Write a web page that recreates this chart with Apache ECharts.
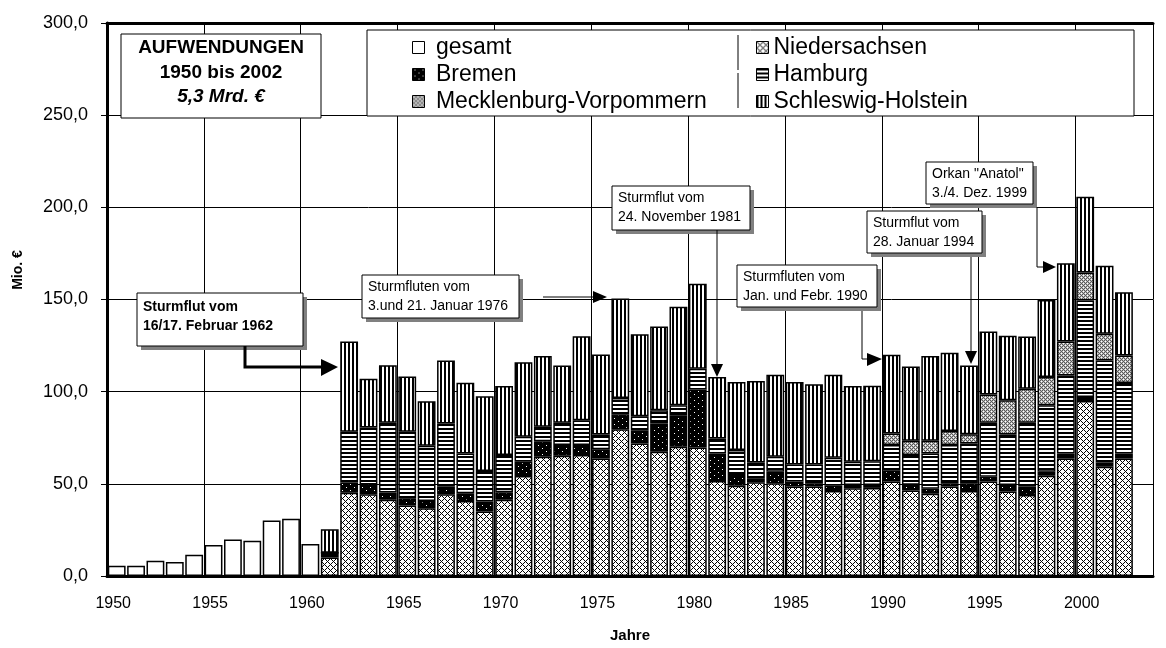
<!DOCTYPE html>
<html>
<head>
<meta charset="utf-8">
<title>Aufwendungen Küstenschutz 1950 bis 2002</title>
<script src="https://cdn.jsdelivr.net/npm/echarts@6.0.0/dist/echarts.min.js"></script>
<style>
  html, body { margin: 0; padding: 0; background: #fff; }
  #chart { width: 1166px; height: 648px; }
</style>
</head>
<body>
<div id="chart"></div>
<script>
// Jahre (Kategorien), 2003 bleibt leer
const years = [
  '1950','1951','1952','1953','1954','1955','1956','1957','1958','1959',
  '1960','1961','1962','1963','1964','1965','1966','1967','1968','1969',
  '1970','1971','1972','1973','1974','1975','1976','1977','1978','1979',
  '1980','1981','1982','1983','1984','1985','1986','1987','1988','1989',
  '1990','1991','1992','1993','1994','1995','1996','1997','1998','1999',
  '2000','2001','2002','2003'
];

// Mio. € - gesamt 1950-1960
const gesamt = [5.5, 5.5, 8.3, 7.6, 11.5, 16.8, 19.8, 19.1, 30.1, 31.0, 17.3];

// Laender ab 1961
const niedersachsen = [
  10.1, 45.2, 44.3, 41.3, 38.2, 36.8, 44.3, 40.7, 35.0, 41.3,
  54.2, 64.7, 65.2, 65.6, 63.8, 79.6, 71.9, 67.4, 70.1, 69.7,
  51.5, 49.0, 50.8, 50.3, 48.5, 48.5, 46.1, 47.6, 47.8, 51.2,
  46.4, 44.6, 48.5, 46.1, 51.2, 45.8, 44.0, 54.4, 63.8, 95.0,
  59.3, 63.8
];
const bremen = [
  2.5, 5.5, 5.4, 4.0, 4.0, 3.9, 4.2, 4.2, 5.4, 4.1,
  7.8, 8.4, 5.8, 5.4, 5.0, 8.1, 6.9, 15.3, 17.1, 31.5,
  15.0, 5.8, 2.2, 6.3, 2.7, 1.8, 2.9, 1.8, 1.6, 5.9,
  3.1, 2.7, 1.8, 4.2, 2.7, 3.6, 4.5, 2.2, 2.7, 2.1,
  2.3, 2.7
];
const hamburg = [
  0, 27.5, 30.8, 37.8, 36.0, 29.9, 34.2, 21.6, 16.5, 20.2,
  13.5, 7.8, 12.2, 13.5, 8.0, 8.9, 7.8, 7.2, 5.4, 11.2,
  8.1, 13.5, 8.6, 8.1, 9.3, 10.2, 15.2, 12.6, 12.8, 13.9,
  16.1, 19.2, 20.7, 21.6, 29.3, 27.4, 34.7, 36.0, 42.3, 52.3,
  55.3, 38.2
];
// ab 1990
const mecklenburg = [6.3, 7.8, 6.9, 7.7, 5.0, 15.2, 18.5, 18.4, 15.3, 18.4, 15.3, 14.5, 14.9];
const schleswig = [
  12.7, 49.0, 26.5, 31.2, 30.0, 24.2, 34.2, 38.4, 40.6, 37.5,
  40.5, 38.4, 31.0, 45.6, 43.4, 54.0, 44.6, 45.4, 53.5, 46.1,
  33.3, 36.9, 44.2, 44.5, 44.7, 43.5, 45.0, 41.1, 41.0, 42.7,
  40.3, 46.0, 42.4, 37.3, 34.2, 35.1, 28.3, 41.8, 42.5, 41.1,
  36.9, 34.3
];

function fromYear(start, values) {
  const out = years.map(() => null);
  const idx = years.indexOf(start);
  values.forEach((v, i) => { out[idx + i] = v; });
  return out;
}

// Schraffuren als kleine Kacheln
function tile(w, h, fn) {
  const c = document.createElement('canvas');
  c.width = w; c.height = h;
  const ctx = c.getContext('2d');
  const img = ctx.createImageData(w, h);
  for (let y = 0; y < h; y++) {
    for (let x = 0; x < w; x++) {
      const v = fn(x, y);
      const k = (y * w + x) * 4;
      img.data[k] = img.data[k + 1] = img.data[k + 2] = v;
      img.data[k + 3] = 255;
    }
  }
  ctx.putImageData(img, 0, 0);
  return { image: c, repeat: 'repeat' };
}

const patCross = tile(6, 6, (x, y) => ((x - y + 6) % 6 === 0 || (x + y) % 6 === 0) ? 0 : 255);
const patDots = tile(8, 6, (x, y) => ((x === 2 && y === 1) || (x === 6 && y === 4)) ? 255 : 0);
const patHoriz = tile(4, 4, (x, y) => y < 2 ? 0 : 255);
const patVert = tile(4, 4, (x, y) => x < 2 ? 0 : 255);
const patGray = tile(4, 4, (x, y) => (x === 1 && y === 1) || (x === 3 && y === 3) ? 255 : ((x + y) % 2 === 0 ? 90 : 190));

const font = '"Liberation Sans", Arial, sans-serif';

function barSeries(name, data, color) {
  return {
    name: name,
    type: 'bar',
    stack: 'total',
    data: data,
    barCategoryGap: '8%',
    itemStyle: { color: color, borderColor: '#000', borderWidth: 1.5 },
    emphasis: { disabled: true }
  };
}

function callout(x, y, w, h, lines, bold, dy) {
  const f = (bold ? 'bold ' : '') + '14px ' + font;
  const els = [
    { type: 'rect', z: 30, shape: { x: x + 4, y: y + 4, width: w, height: h }, style: { fill: '#808080' } },
    { type: 'rect', z: 31, shape: { x: x, y: y, width: w, height: h }, style: { fill: '#fff', stroke: '#000', lineWidth: 1 } }
  ];
  lines.forEach((t, i) => {
    els.push({ type: 'text', z: 32, style: { x: x + 6, y: y + dy + i * 19, text: t, font: f, fill: '#000', verticalAlign: 'middle' } });
  });
  return els;
}

function arrow(points, head, width) {
  return [
    { type: 'polyline', z: 33, shape: { points: points }, style: { stroke: '#000', lineWidth: width, fill: null } },
    { type: 'polygon', z: 33, shape: { points: head }, style: { fill: '#000' } }
  ];
}

const graphics = [].concat(
  // Kasten Aufwendungen
  [{ type: 'rect', z: 30, shape: { x: 121, y: 34, width: 200, height: 84 }, style: { fill: '#fff', stroke: '#000', lineWidth: 1 } },
   { type: 'text', z: 31, style: { x: 221, y: 48, text: 'AUFWENDUNGEN', font: 'bold 19px ' + font, fill: '#000', align: 'center', verticalAlign: 'middle' } },
   { type: 'text', z: 31, style: { x: 221, y: 73, text: '1950 bis 2002', font: 'bold 19px ' + font, fill: '#000', align: 'center', verticalAlign: 'middle' } },
   { type: 'text', z: 31, style: { x: 221, y: 97, text: '5,3 Mrd. €', font: 'italic bold 19px ' + font, fill: '#000', align: 'center', verticalAlign: 'middle' } },
   // Legendenkasten
   { type: 'rect', z: 30, shape: { x: 367, y: 30, width: 767, height: 86 }, style: { fill: '#fff', stroke: '#000', lineWidth: 1 } },
   { type: 'line', z: 31, shape: { x1: 738, y1: 35, x2: 738, y2: 70 }, style: { stroke: '#000', lineWidth: 1 } },
   { type: 'line', z: 31, shape: { x1: 738, y1: 73, x2: 738, y2: 108 }, style: { stroke: '#000', lineWidth: 1 } },
   // Achsentitel y
   { type: 'text', z: 31, rotation: Math.PI / 2, x: 18, y: 270, style: { x: 0, y: 0, text: 'Mio. €', font: 'bold 14px ' + font, fill: '#000', align: 'center', verticalAlign: 'middle' } }],
  callout(137, 293, 166, 53, ['Sturmflut vom', '16/17. Februar 1962'], true, 14),
  arrow([[245, 346], [245, 367], [323, 367]], [[321, 359], [338, 367], [321, 376]], 3),
  callout(362, 275, 157, 43, ['Sturmfluten vom', '3.und 21. Januar 1976'], false, 12),
  arrow([[543, 297], [595, 297]], [[593, 291], [607, 297], [593, 303]], 1),
  callout(612, 186, 138, 44, ['Sturmflut vom', '24. November 1981'], false, 12),
  arrow([[717, 230], [717, 365]], [[711, 364], [723, 364], [717, 377]], 1),
  callout(737, 265, 140, 42, ['Sturmfluten vom', 'Jan. und Febr. 1990'], false, 12),
  arrow([[862, 311], [862, 359], [868, 359]], [[867, 353], [882, 359], [867, 366]], 1),
  callout(867, 211, 115, 42, ['Sturmflut vom', '28. Januar 1994'], false, 12),
  arrow([[971, 257], [971, 352]], [[965, 351], [977, 351], [971, 364]], 1),
  callout(926, 162, 107, 42, ['Orkan "Anatol"', '3./4. Dez. 1999'], false, 12),
  arrow([[1037, 207], [1037, 267], [1044, 267]], [[1043, 261], [1056, 267], [1043, 273]], 1)
);

const chart = echarts.init(document.getElementById('chart'), null, { renderer: 'canvas' });

const legendBase = {
  orient: 'vertical', top: 31, z: 40,
  icon: 'rect', itemWidth: 12, itemHeight: 12, itemGap: 4,
  itemStyle: { borderColor: '#000', borderWidth: 1 },
  textStyle: { fontSize: 23, lineHeight: 23, color: '#000', fontFamily: font },
  selectedMode: false
};

const option = {
  animation: false,
  backgroundColor: '#fff',
  textStyle: { fontFamily: font },
  grid: { left: 107, top: 23, width: 1046, height: 555, containLabel: false },
  legend: [
    Object.assign({}, legendBase, {
      data: ['gesamt', 'Bremen', 'Mecklenburg-Vorpommern'],
      left: 407,
      formatter: n => ' ' + n
    }),
    Object.assign({}, legendBase, {
      data: ['Niedersachsen', 'Hamburg', 'Schleswig-Holstein'],
      left: 751
    })
  ],
  xAxis: [
    {
      type: 'category',
      data: years,
      boundaryGap: true,
      name: 'Jahre',
      nameLocation: 'middle',
      nameGap: 52,
      nameTextStyle: { fontSize: 15, fontWeight: 'bold', color: '#000' },
      axisLine: { lineStyle: { color: '#000', width: 3 } },
      axisTick: { interval: 4, length: 6, lineStyle: { color: '#000', width: 1 } },
      axisLabel: { interval: 4, fontSize: 16, color: '#000', margin: 20, padding: [0, 7, 0, 0] },
      splitLine: { show: true, interval: 4, lineStyle: { color: '#000', width: 1 } }
    },
    {
      type: 'category',
      data: years,
      position: 'top',
      axisLine: { lineStyle: { color: '#000', width: 3 } },
      axisTick: { show: false },
      axisLabel: { show: false },
      splitLine: { show: false }
    }
  ],
  yAxis: {
    type: 'value',
    min: 0,
    max: 300,
    interval: 50,
    axisLine: { show: true, lineStyle: { color: '#000', width: 3 } },
    axisTick: { show: true, length: 6, lineStyle: { color: '#000', width: 1 } },
    axisLabel: { fontSize: 18, color: '#000', margin: 19, formatter: v => v.toFixed(1).replace('.', ',') },
    splitLine: { lineStyle: { color: '#000', width: 1 } }
  },
  series: [
    barSeries('gesamt', fromYear('1950', gesamt), '#fff'),
    barSeries('Niedersachsen', fromYear('1961', niedersachsen), patCross),
    barSeries('Bremen', fromYear('1961', bremen), patDots),
    barSeries('Hamburg', fromYear('1961', hamburg), patHoriz),
    barSeries('Mecklenburg-Vorpommern', fromYear('1990', mecklenburg), patGray),
    barSeries('Schleswig-Holstein', fromYear('1961', schleswig), patVert)
  ],
  graphic: graphics
};

chart.setOption(option);
</script>
</body>
</html>
